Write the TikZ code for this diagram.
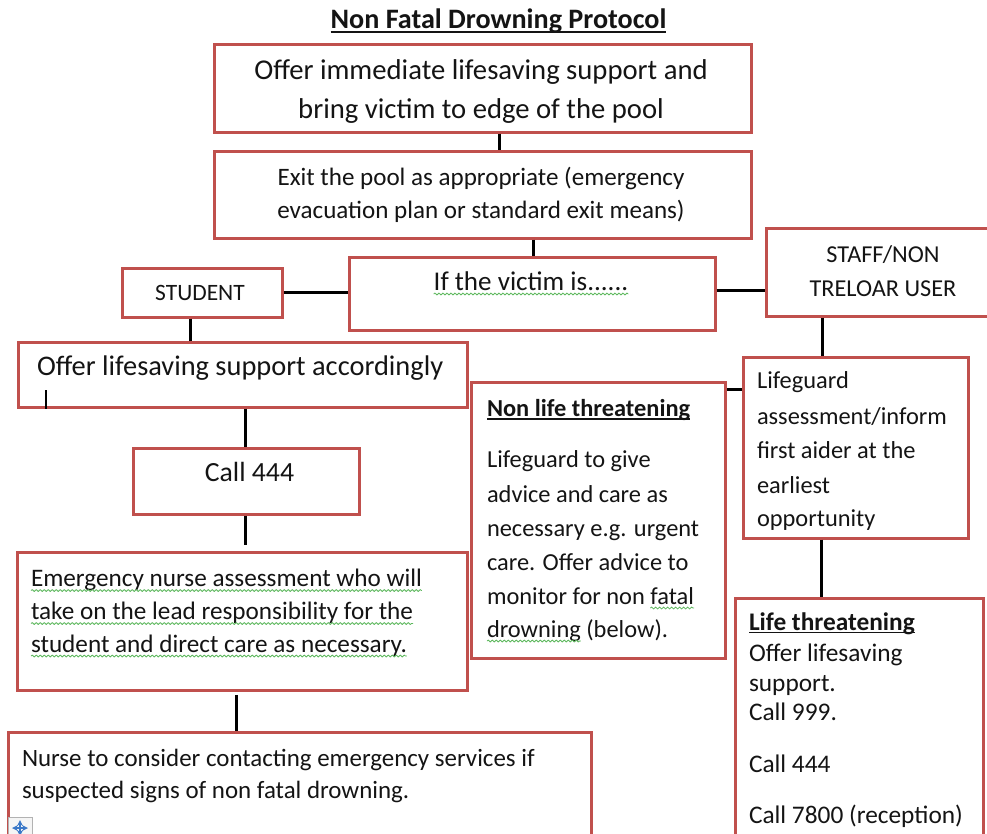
\documentclass[tikz,border=0pt]{standalone}
\usepackage{fontspec}
\setmainfont{Carlito}
\usetikzlibrary{fit,decorations.pathmorphing}
\definecolor{boxred}{HTML}{C0504D}
\definecolor{squig}{HTML}{5DB85D}
\definecolor{ink}{HTML}{141414}
\definecolor{handle}{HTML}{3A78C8}
\tikzset{
  box/.style={draw=boxred, line width=2.25pt, inner sep=0pt, fill=white},
  conn/.style={draw=black, line width=2.25pt},
  txt/.style={inner sep=0pt, outer sep=0pt, text=ink},
  fs/.style={font=\fontsize{#1}{#1}\selectfont},
  uline/.style={draw=ink, line width=1.1pt},
  squiggle/.style={draw=squig, line width=0.6pt, decorate,
    decoration={snake, amplitude=0.7pt, segment length=3pt}},
}
\newcommand\squigunder[1]{\draw[squiggle] ([yshift=-3pt]#1.base west) -- ([yshift=-3pt]#1.base east);}
\begin{document}
\begin{tikzpicture}[x=0.75pt,y=-0.75pt]
\useasboundingbox (0,0) rectangle (987,833);
\clip (0,0) rectangle (987,833);
\fill[white] (0,0) rectangle (987,833);

% ---------- boxes ----------
\node[box, fit={(214,44) (751,132)}] (top) {};
\node[box, fit={(214,151) (751,238)}] (exit) {};
\node[box, fit={(349,257) (715,330)}] (victim) {};
\node[box, fit={(122,268) (282,317)}] (student) {};
\node[box, fit={(766,228) (1005,316)}] (staff) {};
\node[box, fit={(18,342) (467,407)}] (offer) {};
\node[box, fit={(133,448) (359,514)}] (call) {};
\node[box, fit={(17,552) (467,690)}] (nurse) {};
\node[box, fit={(8,732) (591,850)}] (consider) {};
\node[box, fit={(471,382) (725,658)}] (nonlife) {};
\node[box, fit={(743,357) (968,538)}] (lifeguard) {};
\node[box, fit={(735,598) (983,850)}] (life) {};

% ---------- connector guide coordinates ----------
\coordinate (xA) at (499,0);
\coordinate (xB) at (533,0);
\coordinate (yC) at (0,290);
\coordinate (xD) at (190,0);
\coordinate (xE) at (245,0);
\coordinate (xF) at (236,0);
\coordinate (xG) at (822,0);
\coordinate (yH) at (0,389);
\coordinate (xI) at (821,0);

% ---------- connectors ----------
\draw[conn] (top.south -| xA) -- (exit.north -| xA);
\draw[conn] (exit.south -| xB) -- (victim.north -| xB);
\draw[conn] (student.east) -- (victim.west |- student.east);
\draw[conn] (victim.east |- yC) -- (staff.west |- yC);
\draw[conn] (student.south -| xD) -- (offer.north -| xD);
\draw[conn] (offer.south -| xE) -- (call.north -| xE);
\draw[conn, shorten >=4.5pt] (call.south -| xE) -- (nurse.north -| xE);
\draw[conn, shorten <=2.5pt] (nurse.south -| xF) -- (consider.north -| xF);
\draw[conn] (staff.south -| xG) -- (lifeguard.north -| xG);
\draw[conn] (lifeguard.west |- yH) -- (nonlife.east |- yH);
\draw[conn] (lifeguard.south -| xI) -- (life.north -| xI);

% ---------- title ----------
\node[txt, font=\fontsize{21.1}{21}\selectfont\bfseries, anchor=base] (title) at (498.5,28) {Non Fatal Drowning Protocol};
\draw[uline, line width=1.4pt] ([yshift=-3pt]title.base west) -- ([yshift=-3pt]title.base east);

% ---------- texts ----------
\node[txt, fs=21.5, anchor=base] (t1a) at (481,79) {Offer immediate lifesaving support and};
\node[txt, fs=21.5, anchor=base] (t1b) at (481,118) {bring victim to edge of the pool};

\node[txt, fs=18.8, anchor=base] (t2a) at (481,185) {Exit the pool as appropriate (emergency};
\node[txt, fs=18.8, anchor=base] (t2b) at (481,218) {evacuation plan or standard exit means)};

\node[txt, fs=20.3, anchor=base] (t3) at (531,290) {If the victim is......};
\squigunder{t3}

\node[txt, fs=17.6, anchor=base] (t4) at (200,300) {STUDENT};

\node[txt, fs=18.2, anchor=base] (t5a) at (883,262.5) {STAFF/NON};
\node[txt, fs=18.2, anchor=base] (t5b) at (883,296.5) {TRELOAR USER};

\node[txt, fs=21.3, anchor=base west] (t6) at (37,375) {Offer lifesaving support accordingly};
\draw[line width=2.2pt, black] (46,390) -- (46,409);

\node[txt, fs=20.8, anchor=base] (t7) at (249.5,481) {Call 444};

\node[txt, fs=18.9, anchor=base west] (t8a) at (31,586.5) {Emergency nurse assessment who will};
\node[txt, fs=18.9, anchor=base west] (t8b) at (31,619.5) {take on the lead responsibility for the};
\node[txt, fs=18.9, anchor=base west] (t8c) at (31,652) {student and direct care as necessary.};
\squigunder{t8a}
\squigunder{t8b}
\squigunder{t8c}

\node[txt, fs=18.7, anchor=base west] (t9a) at (22,766) {Nurse to consider contacting emergency services if};
\node[txt, fs=18.7, anchor=base west] (t9b) at (22,798) {suspected signs of non fatal drowning.};

\node[txt, anchor=base west, font=\fontsize{18.3}{18.3}\selectfont\bfseries] (t10h) at (487,416.5) {Non life threatening};
\draw[uline] ([yshift=-2pt]t10h.base west) -- ([yshift=-2pt]t10h.base east);
\node[txt, fs=18.3, anchor=base west] (t10a) at (487,467) {Lifeguard to give};
\node[txt, fs=18.3, anchor=base west] (t10b) at (487,502.5) {advice and care as};
\node[txt, fs=18.3, anchor=base west] (t10c) at (487,536) {necessary e.g. urgent};
\node[txt, fs=18.3, anchor=base west] (t10d) at (487,570) {care. Offer advice to};
\node[txt, fs=18.3, anchor=base west] (t10e) at (487,604) {monitor for non};
\node[txt, fs=18.3, anchor=base west, xshift=4.1pt] (t10e2) at (t10e.base east) {fatal};
\node[txt, fs=18.3, anchor=base west] (t10f) at (487,637) {drowning};
\node[txt, fs=18.3, anchor=base west, xshift=4.1pt] (t10f2) at (t10f.base east) {(below).};
\squigunder{t10e2}
\squigunder{t10f}

\node[txt, fs=18.3, anchor=base west] (t11a) at (757,388) {Lifeguard};
\node[txt, fs=18.3, anchor=base west] (t11b) at (757,424) {assessment/inform};
\node[txt, fs=18.3, anchor=base west] (t11c) at (757,458) {first aider at the};
\node[txt, fs=18.3, anchor=base west] (t11d) at (757,493) {earliest};
\node[txt, fs=18.3, anchor=base west] (t11e) at (757,526) {opportunity};

\node[txt, anchor=base west, font=\fontsize{19}{19}\selectfont\bfseries] (t12h) at (749,630) {Life threatening};
\draw[uline] ([yshift=-2pt]t12h.base west) -- ([yshift=-2pt]t12h.base east);
\node[txt, fs=19, anchor=base west] (t12a) at (749,661) {Offer lifesaving};
\node[txt, fs=19, anchor=base west] (t12b) at (749,691) {support.};
\node[txt, fs=19, anchor=base west] (t12c) at (749,720) {Call 999.};
\node[txt, fs=19, anchor=base west] (t12d) at (749,772.5) {Call 444};
\node[txt, fs=19, anchor=base west] (t12e) at (749,823) {Call 7800 (reception)};

% ---------- table move handle ----------
\draw[draw=black!30, line width=0.75pt, fill=black!4] (8,817) rectangle (32,845);
\draw[handle, line width=1pt, <->, >=stealth] (12,828) -- (28,828);
\draw[handle, line width=1pt, <->, >=stealth] (20,820) -- (20,836);
\end{tikzpicture}
\end{document}
